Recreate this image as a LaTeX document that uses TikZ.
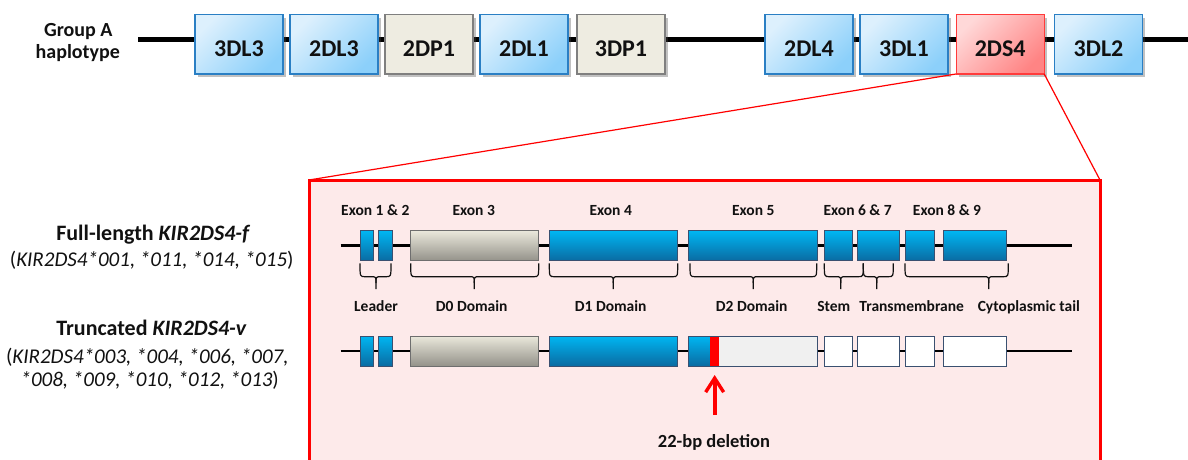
\documentclass[tikz,border=0pt]{standalone}
\usepackage{fontspec}
\setmainfont{Carlito}
\usetikzlibrary{shadows,arrows.meta}
\definecolor{gblueA}{HTML}{DDF0FD}
\definecolor{gblueB}{HTML}{8CD0FA}
\definecolor{gblueD}{HTML}{2A7FC4}
\definecolor{ggrayF}{HTML}{EEECE1}
\definecolor{ggrayD}{HTML}{7F7F7F}
\definecolor{gredA}{HTML}{FFD8D8}
\definecolor{gredB}{HTML}{FF8484}
\definecolor{gredD}{HTML}{FF3B3B}
\definecolor{pinkfill}{HTML}{FDEAEA}
\definecolor{exA}{HTML}{00B6F2}
\definecolor{exB}{HTML}{0A6BA2}
\definecolor{exD}{HTML}{3A5070}
\definecolor{e3A}{HTML}{EAE8DB}
\definecolor{e3B}{HTML}{94928A}
\definecolor{e3D}{HTML}{6E6E6E}
\definecolor{truncF}{HTML}{F0F0F0}
\definecolor{txt}{HTML}{111111}
\newcommand\kirbrace[3]{%
  \draw[bracestyle] (#1,263.3) .. controls (#1,276.7) .. ({#1+5},276.7) -- ({#2-5},276.7) .. controls (#2,276.7) .. (#2,283) -- (#2,289);
  \draw[bracestyle] (#2,283) .. controls (#2,276.7) .. ({#2+5},276.7) -- ({#3-5},276.7) .. controls (#3,276.7) .. (#3,263.3);}
\begin{document}
\begin{tikzpicture}[x=1pt,y=-1pt,
  gene/.style={line width=1.2pt, minimum width=88pt, minimum height=59.3pt, inner sep=0pt, outer sep=0pt,
     text height=24pt, text depth=0pt, font=\fontsize{24}{26}\selectfont\bfseries, text=txt,
     drop shadow={shadow xshift=2.5pt, shadow yshift=-3pt, opacity=0.35, fill=black!70}},
  bluegene/.style={gene, draw=gblueD, top color=gblueA, bottom color=gblueB, shading angle=45},
  graygene/.style={gene, draw=ggrayD, fill=ggrayF},
  redgene/.style={gene, draw=gredD, top color=gredA, bottom color=gredB, shading angle=45},
  exon/.style={draw=exD, line width=0.9pt, top color=exA, bottom color=exB, minimum height=30pt, inner sep=0pt, outer sep=0pt},
  exongray/.style={draw=e3D, line width=0.9pt, top color=e3A, bottom color=e3B, minimum height=30pt, inner sep=0pt, outer sep=0pt},
  exonwhite/.style={draw=exD, line width=0.9pt, fill=white, minimum height=30pt, inner sep=0pt, outer sep=0pt},
  bracestyle/.style={draw=txt, line width=1.2pt},
  exlab/.style={anchor=base, inner sep=0pt, font=\fontsize{15.5}{17}\selectfont\bfseries, text=txt},
  hapllab/.style={anchor=base, inner sep=0pt, font=\fontsize{20}{22}\selectfont\bfseries, text=txt},
  rowlab/.style={anchor=base, inner sep=0pt, font=\fontsize{22}{24}\selectfont\bfseries, text=txt},
  allelelab/.style={anchor=base, inner sep=0pt, font=\fontsize{21}{23}\selectfont, text=txt},
  intron/.style={draw=black, line width=2.6pt}
]
\useasboundingbox (0,0) rectangle (1188,459);

% ---------- haplotype ----------
\node[hapllab] (grp) at (78.3,36) {Group A};
\node[hapllab] (hap) at (77.8,58.3) {haplotype};
\coordinate (hl) at (138.3,39.3);
\coordinate (hr) at (1188,39.3);
\draw[line width=4.5pt] (hl) -- (hr);

\node[bluegene] (g1) at (239,44.3) {3DL3};
\node[bluegene] (g2) at (334,44.3) {2DL3};
\node[graygene] (g3) at (429,44.3) {2DP1};
\node[bluegene] (g4) at (524,44.3) {2DL1};
\node[graygene] (g5) at (621,44.3) {3DP1};
\node[bluegene] (g6) at (809,44.3) {2DL4};
\node[bluegene] (g7) at (904,44.3) {3DL1};
\node[redgene]  (g8) at (1000.2,44.3) {2DS4};
\node[bluegene] (g9) at (1098.5,44.3) {3DL2};

% ---------- zoom box ----------
\coordinate (zbl) at (309,465);
\coordinate (ztl) at (309,180);
\coordinate (ztr) at (1100,180);
\coordinate (zbr) at (1100,465);
\fill[pinkfill] (ztl) rectangle (zbr);
\draw[red, line width=3pt] (zbl) -- (ztl) -- (ztr) -- (zbr);
\draw[red, line width=1.2pt] (g8.south west) -- (ztl);
\draw[red, line width=1.2pt] (g8.south east) -- (ztr);

% ---------- row labels ----------
\node[rowlab] (fl) at (153.3,240) {Full-length \textit{KIR2DS4-f}};
\node[allelelab] (fa) at (151.7,266.7) {(\textit{KIR2DS4*001, *011, *014, *015})};
\node[rowlab] (tr) at (151.5,335) {Truncated \textit{KIR2DS4-v}};
\node[allelelab] (ta1) at (147.3,363.3) {(\textit{KIR2DS4*003, *004, *006, *007,}};
\node[allelelab] (ta2) at (149.7,386.7) {\textit{*008, *009, *010, *012, *013})};

% ---------- exon labels ----------
\node[exlab] (lx12) at (375.3,215.6) {Exon 1 \& 2};
\node[exlab] (lx3) at (473.7,215.6) {Exon 3};
\node[exlab] (lx4) at (610.7,215.6) {Exon 4};
\node[exlab] (lx5) at (753.3,215.6) {Exon 5};
\node[exlab] (lx67) at (857.7,215.6) {Exon 6 \& 7};
\node[exlab] (lx89) at (947,215.6) {Exon 8 \& 9};

% ---------- full-length row ----------
\coordinate (r1s) at (340.7,245.7);
\coordinate (r1e) at (1072.3,245.7);
\draw[intron] (r1s) -- (r1e);
\node[exon, minimum width=13.7pt] (a1) at (366.85,245.7) {};
\node[exon, minimum width=14pt] (a2) at (385.3,245.7) {};
\node[exongray, minimum width=128pt] (a3) at (474.7,245.7) {};
\node[exon, minimum width=128.4pt] (a4) at (613.5,245.7) {};
\node[exon, minimum width=129.4pt] (a5) at (753,245.7) {};
\node[exon, minimum width=28.4pt] (a6) at (838.5,245.7) {};
\node[exon, minimum width=41.6pt] (a7) at (878.5,245.7) {};
\node[exon, minimum width=29pt] (a8) at (919.5,245.7) {};
\node[exon, minimum width=62.7pt] (a9) at (974.65,245.7) {};

% ---------- braces ----------
\kirbrace{360}{376}{391}
\kirbrace{410.7}{474.3}{538.7}
\kirbrace{549.3}{613.3}{677.7}
\kirbrace{690}{753.3}{816.7}
\kirbrace{824.3}{840.7}{863.3}
\kirbrace{863.3}{876.7}{893.3}
\kirbrace{905}{988.7}{1008.3}

\node[exlab] (dl) at (376,311.5) {Leader};
\node[exlab] (d0) at (471.7,311.5) {D0 Domain};
\node[exlab] (d1) at (610.7,311.5) {D1 Domain};
\node[exlab] (d2) at (751.7,311.5) {D2 Domain};
\node[exlab] (dst) at (833.7,311.5) {Stem};
\node[exlab] (dtm) at (911.7,311.5) {Transmembrane};
\node[exlab] (dct) at (1028.8,311.5) {Cytoplasmic tail};

% ---------- truncated row ----------
\coordinate (r2s) at (340.7,351);
\coordinate (r2e) at (1072.3,351);
\draw[intron] (r2s) -- (r2e);
\node[exon, minimum width=13.7pt] (b1) at (366.85,351) {};
\node[exon, minimum width=14pt] (b2) at (385.3,351) {};
\node[exongray, minimum width=128pt] (b3) at (474.7,351) {};
\node[exon, minimum width=128.4pt] (b4) at (613.5,351) {};
\node[draw=exD, line width=0.9pt, fill=truncF, minimum width=129.4pt, minimum height=30pt, inner sep=0pt, outer sep=0pt] (b5) at (753,351) {};
\node[top color=exA, bottom color=exB, minimum width=21.7pt, minimum height=30pt, inner sep=0pt, outer sep=0pt] (b5b) at (699.15,351) {};
\node[fill=red, minimum width=9.3pt, minimum height=30pt, inner sep=0pt, outer sep=0pt] (b5d) at (714.65,351) {};
\draw[draw=exD, line width=0.9pt] (b5.north west) rectangle (b5.south east);
\node[exonwhite, minimum width=28.4pt] (b6) at (838.5,351) {};
\node[exonwhite, minimum width=41.6pt] (b7) at (878.5,351) {};
\node[exonwhite, minimum width=29pt] (b8) at (919.5,351) {};
\node[exonwhite, minimum width=62.7pt] (b9) at (974.65,351) {};

% ---------- deletion ----------
\node[anchor=base, inner sep=0pt, font=\fontsize{18.5}{20}\selectfont\bfseries, text=txt] (del) at (714,447.3) {22-bp deletion};
\draw[red, line width=3.8pt, -{Straight Barb[length=14pt, width=18pt, line width=3.4pt]}, shorten <=19pt, shorten >=9pt] (del.north -| b5d.south) -- (b5d.south);
\end{tikzpicture}
\end{document}
